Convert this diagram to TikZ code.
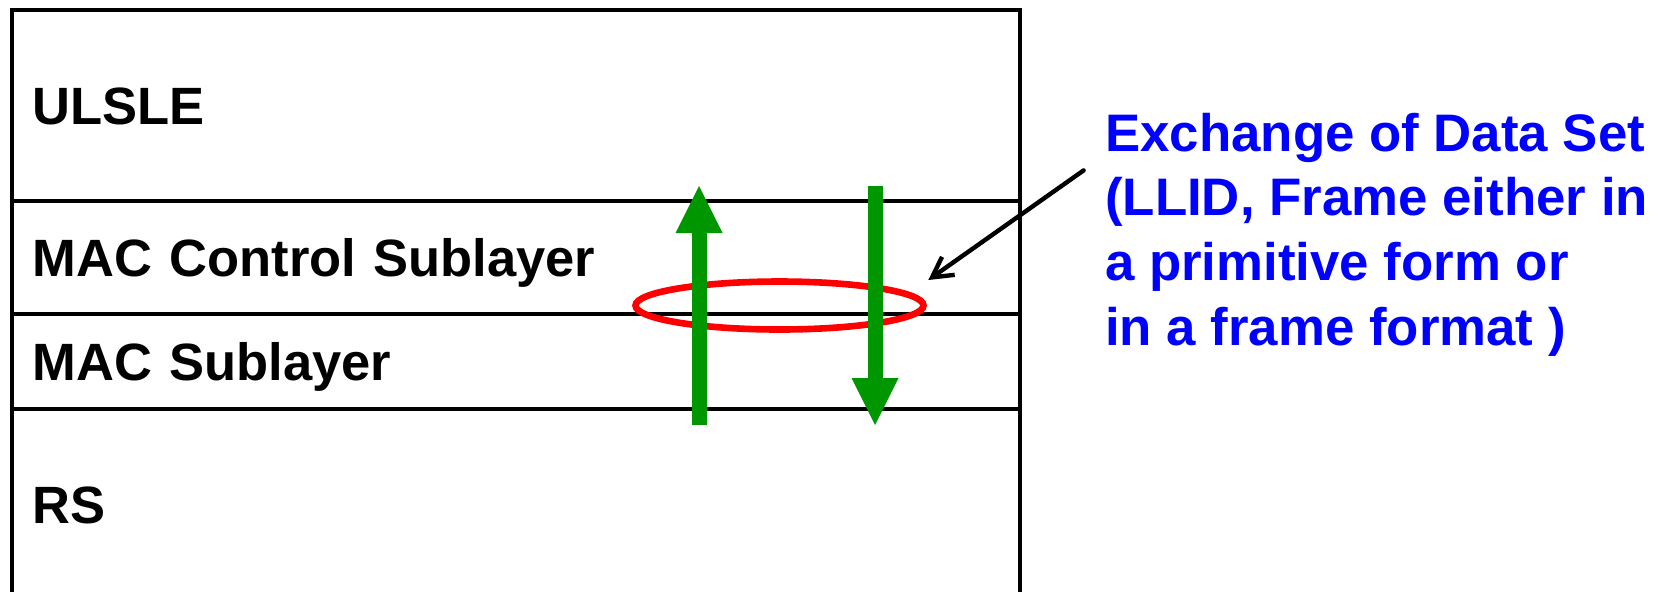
\documentclass[tikz,border=0pt]{standalone}
\usepackage{fontspec}
\setmainfont{Liberation Sans}
\usepackage{tikz}
\usetikzlibrary{positioning, arrows.meta, calc, shapes.geometric}
\definecolor{flowgreen}{RGB}{0,150,0}

\begin{document}
\begin{tikzpicture}[
  font=\bfseries\fontsize{26.25}{32}\selectfont,
  layer/.style={draw, line width=2pt, outer sep=0pt, minimum width=504pt,
    text width=483.5pt, inner xsep=10.25pt, align=left, text height=18.8pt, text depth=0pt},
  note/.style={text=blue, align=left, inner sep=0pt, font=\bfseries\fontsize{26.4}{32.4}\selectfont},
  flow/.style={flowgreen, line width=7.5pt, -{Triangle[length=23.5pt, width=23.5pt, line width=0pt]}},
  pointer/.style={line width=2.2pt, -{Straight Barb[length=10pt, width=11pt]}, line cap=round},
]
  \useasboundingbox (0,0) rectangle (832.5pt,-295.5pt);
  % protocol stack
  \node[layer, minimum height=95.5pt, anchor=north west] (ulsle) at (6pt,-5pt) {ULSLE};
  \node[layer, minimum height=56.5pt, below=0pt of ulsle] (macctl) {MAC Control Sublayer};
  \node[layer, minimum height=47.5pt, below=0pt of macctl] (mac) {MAC Sublayer};
  \node[layer, minimum height=96pt, below=0pt of mac] (rs) {RS};
  % data set exchanged between the sublayers
  \node[ellipse, draw=red, line width=3.3pt, minimum width=144pt, minimum height=24pt, inner sep=0pt]
    (ring) at ($(macctl.south west)+(383.75pt,4.25pt)$) {};
  \coordinate (upfoot)   at ($(mac.south west)+(343.5pt,-8pt)$);
  \coordinate (uptip)    at ($(macctl.north west)+(343.5pt,7.5pt)$);
  \coordinate (downtop)  at ($(macctl.north west)+(431.5pt,7.5pt)$);
  \coordinate (downtip)  at ($(mac.south west)+(431.5pt,-8pt)$);
  \draw[flow] (upfoot) -- (uptip);
  \draw[flow] (downtop) -- (downtip);
  % explanation
  \node[note, anchor=north west] (note) at ($(ulsle.north east)+(42.4pt,-51.2pt)$)
    {Exchange of Data Set\\(LLID, Frame either in\\a primitive form or\\in a frame format )};
  \coordinate (tail) at ($(note.north west)+(-10.6pt,-29pt)$);
  \draw[pointer] (tail) -- ($(ring.east)+(0.75pt,12.75pt)$);
\end{tikzpicture}
\end{document}
